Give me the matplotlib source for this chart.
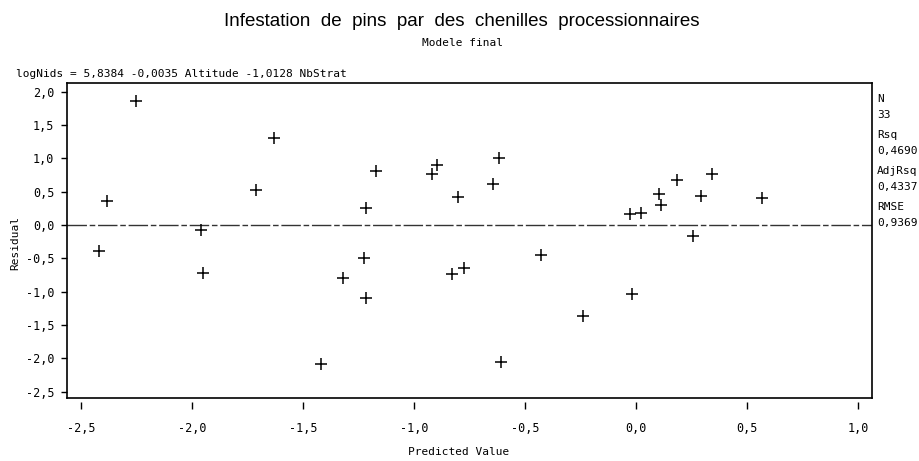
import matplotlib
matplotlib.use("Agg")
import matplotlib.pyplot as plt

# Predicted values and residuals (33 obs)
predicted = [-2.420, -2.385, -2.254, -1.958, -1.950, -1.714, -1.631, -1.421,
             -1.320, -1.228, -1.216, -1.216, -1.171, -0.919, -0.896, -0.832,
             -0.802, -0.777, -0.646, -0.620, -0.607, -0.427, -0.242, -0.029,
             -0.018, 0.019, 0.104, 0.110, 0.185, 0.257, 0.290, 0.339, 0.564]
residual = [-0.39, 0.36, 1.86, -0.08, -0.72, 0.52, 1.31, -2.09,
            -0.80, -0.49, -1.09, 0.25, 0.81, 0.76, 0.90, -0.73,
            0.42, -0.65, 0.62, 1.01, -2.05, -0.45, -1.37, 0.16,
            -1.03, 0.18, 0.46, 0.30, 0.68, -0.17, 0.43, 0.76, 0.41]

xticks = [-2.5, -2.0, -1.5, -1.0, -0.5, 0.0, 0.5, 1.0]
xlabels = ["-2,5", "-2,0", "-1,5", "-1,0", "-0,5", "0,0", "0,5", "1,0"]
yticks = [2.0, 1.5, 1.0, 0.5, 0.0, -0.5, -1.0, -1.5, -2.0, -2.5]
ylabels = ["2,0", "1,5", "1,0", "0,5", "0,0", "-0,5", "-1,0", "-1,5", "-2,0", "-2,5"]

stats_names = ["N", "Rsq", "AdjRsq", "RMSE"]
stats_values = ["33", "0,4690", "0,4337", "0,9369"]

title = "Infestation  de  pins  par  des  chenilles  processionnaires"
subtitle = "Modele final"
equation = "logNids = 5,8384 -0,0035 Altitude -1,0128 NbStrat"

MONO = "DejaVu Sans Mono"
W, H = 919, 461


def fx(px):
    return px / W


def fy(py):
    return 1 - py / H


fig = plt.figure(figsize=(W / 100, H / 100), dpi=100)
ax = fig.add_axes([fx(67), fy(398), fx(872) - fx(67), fy(83) - fy(398)])

# Zero reference line
ax.axhline(0, color="#333333", lw=1, ls=(0, (14, 2, 4, 2)), zorder=1)

# Residual points
ax.plot(predicted, residual, "+", color="black", ms=8, mew=1.1, zorder=2)

ax.set_xlim(-2.5637, 1.0615)
ax.set_ylim(-2.593, 2.128)

for s in ax.spines.values():
    s.set_linewidth(1.2)
    s.set_color("black")

ax.set_yticks(yticks, ylabels, fontfamily=MONO, fontsize=8.5)
ax.tick_params(axis="y", direction="out", length=4, width=1, pad=5)
ax.tick_params(axis="x", bottom=False, labelbottom=False)

# x ticks sit a little below the frame
sec = ax.secondary_xaxis(-0.013)
for s in sec.spines.values():
    s.set_visible(False)
sec.set_xticks(xticks, xlabels, fontfamily=MONO, fontsize=8.5)
sec.tick_params(direction="out", length=5, width=1, pad=9)

# Titles and annotations
fig.text(fx(462), fy(22), title, ha="center", va="center",
         fontfamily="Liberation Sans", fontsize=13.5)
fig.text(fx(462), fy(43), subtitle, ha="center", va="center",
         fontfamily=MONO, fontsize=8)
fig.text(fx(16), fy(74), equation, ha="left", va="center",
         fontfamily=MONO, fontsize=8)
fig.text(fx(459), fy(452), "Predicted Value", ha="center", va="center",
         fontfamily=MONO, fontsize=8)
fig.text(fx(15), fy(243), "Residual", ha="center", va="center",
         rotation=90, fontfamily=MONO, fontsize=8)

for i, (name, val) in enumerate(zip(stats_names, stats_values)):
    top = 99 + 36 * i
    fig.text(fx(877), fy(top), name, ha="left", va="center",
             fontfamily=MONO, fontsize=8)
    fig.text(fx(877), fy(top + 16), val, ha="left", va="center",
             fontfamily=MONO, fontsize=8)

fig.savefig("out.png", dpi=100)
